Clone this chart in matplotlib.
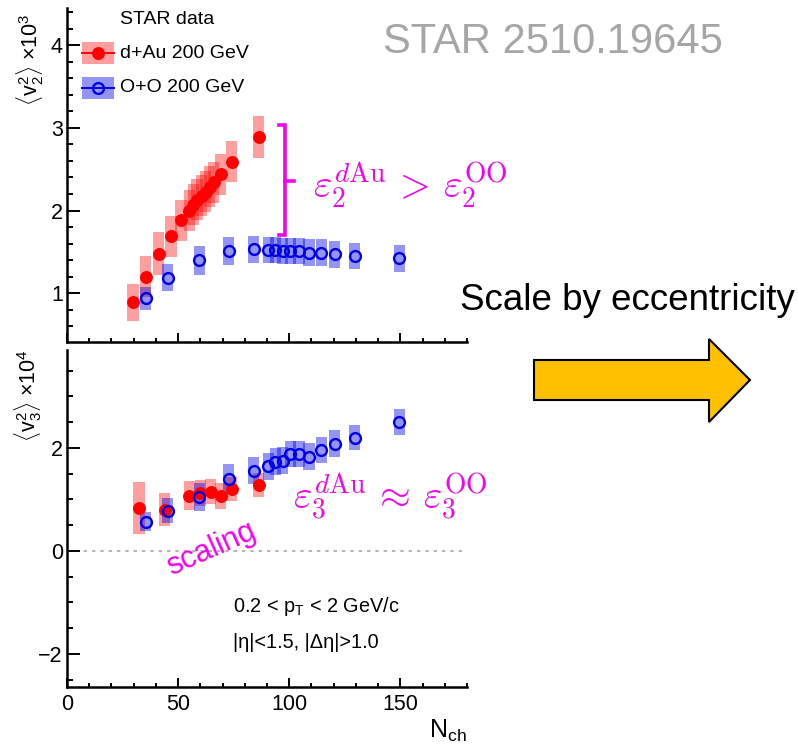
import matplotlib
matplotlib.use('Agg')
import matplotlib.pyplot as plt
from matplotlib.patches import Rectangle, Polygon
from matplotlib.lines import Line2D
from matplotlib.ticker import MultipleLocator

plt.rcParams['font.family'] = ['Liberation Sans', 'DejaVu Sans']
plt.rcParams['mathtext.fontset'] = 'custom'
plt.rcParams['mathtext.rm'] = 'Liberation Sans'
plt.rcParams['mathtext.it'] = 'Liberation Sans:italic'

W, H = 798, 747

# d+Au 200 GeV, <v2^2> x 10^3
dau_v2_nch = [29.7, 35.5, 41.3, 46.8, 51.3, 55.0, 56.8, 58.5, 60.6, 62.5, 64.3, 66.1, 69.2, 74.2, 86.3]
dau_v2 = [0.89, 1.20, 1.48, 1.69, 1.88, 2.00, 2.07, 2.13, 2.18, 2.23, 2.29, 2.34, 2.44, 2.59, 2.89]
dau_v2_sys = [0.22, 0.25, 0.26, 0.25, 0.25, 0.25, 0.25, 0.25, 0.25, 0.25, 0.25, 0.25, 0.25, 0.25, 0.25]

# O+O 200 GeV, same Nch bins for both harmonics
oo_nch = [35.5, 45.4, 59.6, 72.8, 84.0, 90.5, 93.7, 97.0, 100.4, 104.4, 108.9, 114.4, 120.4, 129.4, 149.5]
oo_v2 = [0.94, 1.19, 1.40, 1.51, 1.53, 1.52, 1.52, 1.51, 1.51, 1.51, 1.49, 1.49, 1.47, 1.45, 1.42]
oo_v2_sys = [0.14, 0.165, 0.175, 0.17, 0.16, 0.16, 0.16, 0.16, 0.16, 0.16, 0.16, 0.16, 0.16, 0.16, 0.16]

# <v3^2> x 10^4
dau_v3_nch = [32.4, 44.0, 55.0, 60.0, 64.6, 69.2, 74.2, 86.3]
dau_v3 = [0.83, 0.80, 1.07, 1.12, 1.15, 1.07, 1.20, 1.28]
dau_v3_sys = [0.50, 0.32, 0.28, 0.25, 0.24, 0.25, 0.24, 0.24]
oo_v3 = [0.57, 0.78, 1.05, 1.40, 1.56, 1.64, 1.73, 1.75, 1.88, 1.88, 1.83, 1.96, 2.08, 2.20, 2.50]
oo_v3_sys = [0.19, 0.24, 0.27, 0.29, 0.27, 0.27, 0.26, 0.26, 0.26, 0.26, 0.26, 0.26, 0.26, 0.24, 0.25]

RED = '#ff0000'
BLUE = '#0000e6'
MAGENTA = '#f500f0'
BOX_W = 5.0


def fx(px):
    return px / W


def fy(py):
    return 1 - py / H


def style_axis(ax, ymajor, yminor):
    for s in ['top', 'right']:
        ax.spines[s].set_visible(False)
    for s in ['left', 'bottom']:
        ax.spines[s].set_linewidth(1.8)
    ax.set_xlim(0, 180)
    ax.xaxis.set_major_locator(MultipleLocator(50))
    ax.xaxis.set_minor_locator(MultipleLocator(10))
    ax.yaxis.set_major_locator(MultipleLocator(ymajor))
    ax.yaxis.set_minor_locator(MultipleLocator(yminor))
    ax.tick_params(axis='both', which='both', direction='in', width=1.4, labelsize=15.5)
    ax.tick_params(axis='y', which='major', length=9.4, pad=3)
    ax.tick_params(axis='y', which='minor', length=4.3)
    ax.tick_params(axis='x', which='major', length=6.8, pad=5)
    ax.tick_params(axis='x', which='minor', length=3.2)


def draw_series(ax, x, y, sys, color, alpha, filled):
    ax.bar(x, [2 * s for s in sys], bottom=[v - s for v, s in zip(y, sys)],
           width=BOX_W, color=color, alpha=alpha, linewidth=0, zorder=2)
    if filled:
        ax.plot(x, y, 'o', color=color, markersize=8.3, zorder=3)
    else:
        ax.plot(x, y, 'o', mfc='none', mec=color, mew=1.7, markersize=7.8, zorder=4)


fig = plt.figure(figsize=(W / 100, H / 100), dpi=100)

# top panel: <v2^2>
ax1 = fig.add_axes([fx(67), fy(342), 400 / W, (342 - 8) / H])
style_axis(ax1, 1, 0.2)
ax1.set_ylim(0.41, 4.45)
ax1.tick_params(axis='x', labelbottom=False)
draw_series(ax1, dau_v2_nch, dau_v2, dau_v2_sys, RED, 0.38, True)
draw_series(ax1, oo_nch, oo_v2, oo_v2_sys, BLUE, 0.42, False)

# bracket between the two v2 trends
ax1.plot([95.3, 98, 98, 95.3], [3.04, 3.04, 1.70, 1.70], color=MAGENTA, lw=2.6,
         solid_joinstyle='miter', zorder=5)
ax1.plot([98, 102.3], [2.36, 2.36], color=MAGENTA, lw=2.6, zorder=5)

# bottom panel: <v3^2>
ax2 = fig.add_axes([fx(67), fy(687), 400 / W, (687 - 350) / H])
style_axis(ax2, 2, 0.5)
ax2.set_ylim(-2.64, 3.9)
ax2.axhline(0, color='#a8a8a8', lw=1.2, ls=(0, (2, 3)), zorder=1)
draw_series(ax2, dau_v3_nch, dau_v3, dau_v3_sys, RED, 0.38, True)
draw_series(ax2, oo_nch, oo_v3, oo_v3_sys, BLUE, 0.42, False)

# axis titles
fig.text(fx(30), fy(60), r'$\langle\mathregular{v}_2^2\rangle$ $\times$10$^3$', rotation=90,
         ha='center', va='center', fontsize=15.5)
fig.text(fx(28), fy(396), r'$\langle\mathregular{v}_3^2\rangle$ $\times$10$^4$', rotation=90,
         ha='center', va='center', fontsize=15.5)
fig.text(fx(467), fy(738), r'N$_{\mathregular{ch}}$', ha='right', va='baseline', fontsize=18)

# legend
fig.text(fx(120), fy(20), 'STAR data', ha='left', va='center', fontsize=14)
for yc, color, alpha, filled, label in [(53, RED, 0.38, True, 'd+Au 200 GeV'),
                                        (88, BLUE, 0.42, False, 'O+O 200 GeV')]:
    fig.add_artist(Rectangle((fx(82), fy(yc + 11)), 32 / W, 22 / H, transform=fig.transFigure,
                             facecolor=color, alpha=alpha, linewidth=0))
    fig.add_artist(Line2D([fx(82), fx(114)], [fy(yc), fy(yc)], transform=fig.transFigure,
                          color=color, lw=1.4))
    if filled:
        fig.add_artist(Line2D([fx(98)], [fy(yc)], transform=fig.transFigure, marker='o',
                              color=color, markersize=8.3))
    else:
        fig.add_artist(Line2D([fx(98)], [fy(yc)], transform=fig.transFigure, marker='o',
                              mfc='none', mec=color, mew=1.7, markersize=7.8))
    fig.text(fx(120), fy(yc), label, ha='left', va='center', fontsize=14)

# cut and acceptance
fig.text(fx(233), fy(607), r'0.2 < p$_{\mathregular{T}}$ < 2 GeV/c', ha='left', va='center', fontsize=14.3)
fig.text(fx(233), fy(643), '|η|<1.5, |Δη|>1.0', ha='left', va='center', fontsize=14.3)

# eccentricity annotations
fig.text(fx(313), fy(185), r'$\varepsilon_2^{d\mathrm{Au}}\,>\,\varepsilon_2^{\mathrm{OO}}$',
         ha='left', va='center', fontsize=28.5, color=MAGENTA, math_fontfamily='cm')
fig.text(fx(293), fy(497), r'$\varepsilon_3^{d\mathrm{Au}}\,\approx\,\varepsilon_3^{\mathrm{OO}}$',
         ha='left', va='center', fontsize=28.5, color=MAGENTA, math_fontfamily='cm')
fig.text(fx(211), fy(549), 'scaling', rotation=24, ha='center', va='center',
         fontsize=22, color=MAGENTA)

fig.text(fx(383), fy(42), 'STAR 2510.19645', ha='left', va='center', fontsize=30, color='#a6a6a6')
fig.text(fx(460), fy(300), 'Scale by eccentricity', ha='left', va='center', fontsize=26.5, color='black')

arrow_px = [(534, 360), (709, 360), (709, 339), (750, 380), (709, 422), (709, 400), (534, 400)]
fig.add_artist(Polygon([(fx(x), fy(y)) for x, y in arrow_px], closed=True,
                       transform=fig.transFigure, facecolor='#ffc000', edgecolor='black', lw=1.5))

fig.savefig('out.png', dpi=100)
